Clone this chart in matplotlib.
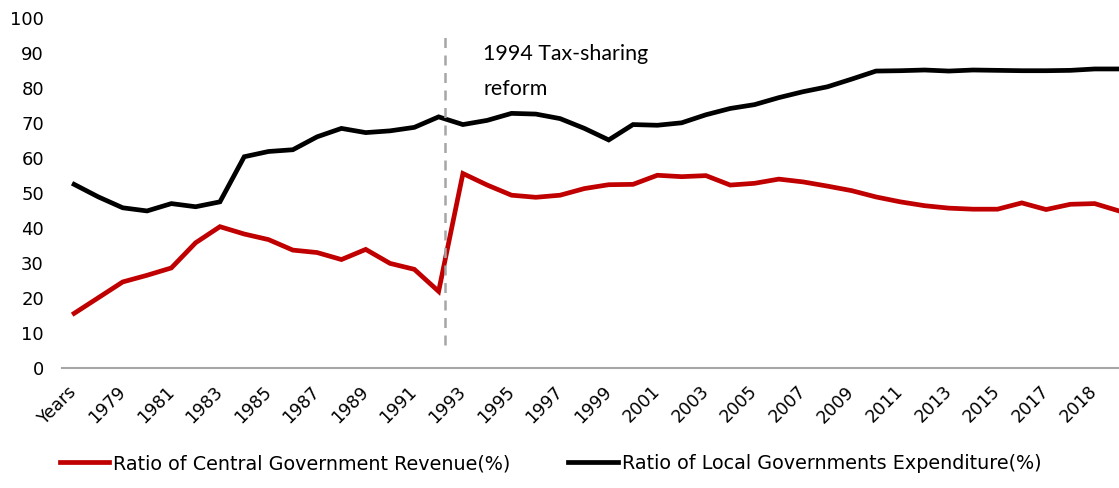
import matplotlib
matplotlib.use("Agg")
import matplotlib.pyplot as plt
import numpy as np

# Tick labels as printed on the x axis (every other category)
tick_labels = ["Years", "1979", "1981", "1983", "1985", "1987", "1989", "1991",
               "1993", "1995", "1997", "1999", "2001", "2003", "2005", "2007",
               "2009", "2011", "2013", "2015", "2017", "2018"]

central_revenue = [15.6, 20.1, 24.6, 26.5, 28.6, 35.8, 40.4, 38.3, 36.7, 33.7,
                   33.0, 31.0, 33.9, 29.9, 28.2, 21.9, 55.6, 52.3, 49.4, 48.8,
                   49.4, 51.3, 52.4, 52.5, 55.1, 54.7, 55.0, 52.3, 52.8, 54.0,
                   53.2, 52.0, 50.7, 48.9, 47.5, 46.4, 45.7, 45.4, 45.4, 47.2,
                   45.3, 46.8, 47.0, 44.9]

local_expenditure = [52.5, 48.9, 45.8, 44.9, 47.0, 46.1, 47.5, 60.4, 61.9, 62.4,
                     66.1, 68.5, 67.3, 67.8, 68.8, 71.8, 69.6, 70.8, 72.8, 72.6,
                     71.3, 68.5, 65.2, 69.6, 69.4, 70.1, 72.4, 74.2, 75.3, 77.3,
                     79.0, 80.4, 82.6, 84.9, 85.0, 85.2, 84.9, 85.2, 85.1, 85.0,
                     85.0, 85.1, 85.5, 85.5]

reform_pos = 15.28
reform_text = "1994 Tax-sharing\nreform"

fig = plt.figure(figsize=(11.19, 4.88), dpi=100)
ax = fig.add_axes([0.0554, 0.246, 0.9446, 0.7166])

x = np.arange(len(central_revenue))
ax.plot(x, central_revenue, color="#C00000", linewidth=3.4,
        solid_joinstyle="miter", label="Ratio of Central Government Revenue(%)")
ax.plot(x, local_expenditure, color="#000000", linewidth=3.4,
        solid_joinstyle="miter", label="Ratio of Local Governments Expenditure(%)")

ax.plot([reform_pos, reform_pos], [6.5, 94.5], color="#A6A6A6", linewidth=1.8,
        linestyle=(0, (4, 3)))
ax.text(reform_pos + 1.55, 92.5, reform_text, fontsize=15.4, family="Lato",
        va="top", ha="left", linespacing=1.9)

ax.set_xlim(-0.5, 43.0)
ax.set_ylim(0, 100)
ax.set_yticks(np.arange(0, 101, 10))
ax.set_xticks(np.arange(0, len(tick_labels) * 2, 2))
ax.set_xticklabels(tick_labels, rotation=45, ha="right", va="center",
                   rotation_mode="anchor", fontsize=12.5)
for lab in ax.get_yticklabels():
    lab.set_fontsize(13)

for side in ("top", "right", "left"):
    ax.spines[side].set_visible(False)
ax.spines["bottom"].set_color("#A6A6A6")
ax.spines["bottom"].set_linewidth(1.5)
ax.tick_params(axis="y", length=0, pad=13, colors="#000000")
ax.tick_params(axis="x", length=0, pad=15)

fig.legend(loc="lower center", bbox_to_anchor=(0.492, -0.005), ncol=2,
           frameon=False, fontsize=13.8, handlelength=2.6, handletextpad=0.2,
           columnspacing=3.0)

fig.savefig("out.png", dpi=100)
